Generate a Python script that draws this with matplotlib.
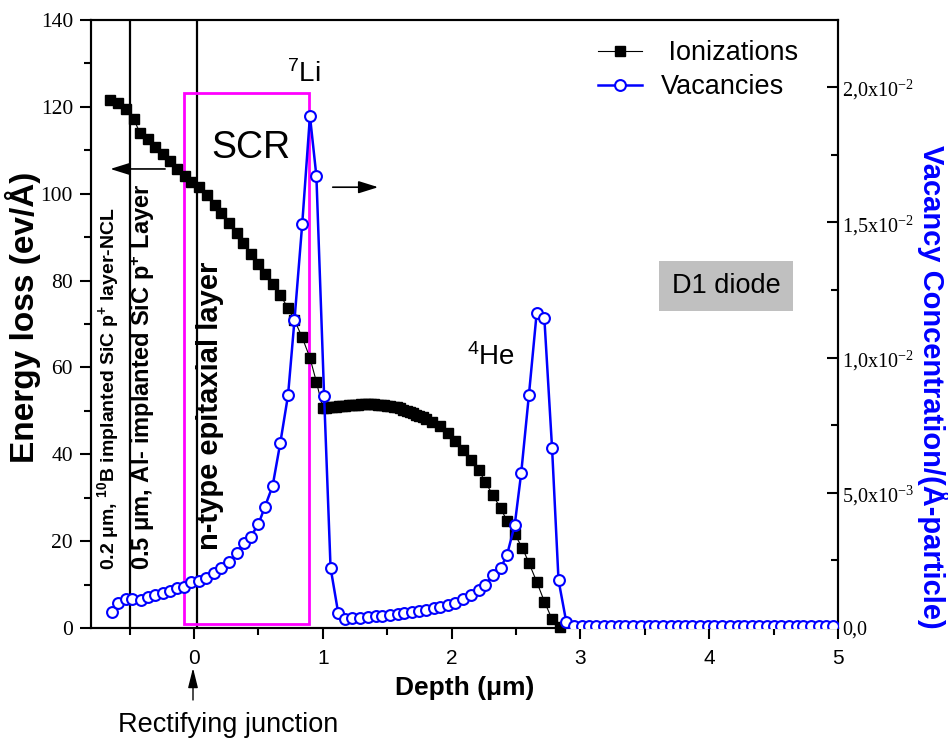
import matplotlib
matplotlib.use("Agg")
import matplotlib.pyplot as plt
from matplotlib.patches import Rectangle
from matplotlib.ticker import MultipleLocator, FixedLocator

plt.rcParams['font.family'] = ['Liberation Sans', 'DejaVu Sans']
plt.rcParams['mathtext.fontset'] = 'custom'
plt.rcParams['mathtext.rm'] = 'Liberation Serif'
plt.rcParams['mathtext.sf'] = 'Liberation Sans'
plt.rcParams['mathtext.bf'] = 'Liberation Sans:bold'
plt.rcParams['mathtext.it'] = 'Liberation Sans:italic'

# SRIM energy loss by ionization (eV/Å) versus depth (µm)
ion_depth = [-0.65, -0.59, -0.53, -0.47, -0.42, -0.36, -0.30, -0.24, -0.19, -0.13,
             -0.07, -0.02, 0.04, 0.10, 0.16, 0.21, 0.27, 0.33, 0.38, 0.44,
             0.50, 0.55, 0.61, 0.67, 0.73, 0.78, 0.84, 0.90, 0.95,
             1.000, 1.025, 1.050, 1.075, 1.100, 1.125, 1.150, 1.175, 1.200, 1.225,
             1.250, 1.275, 1.300, 1.325, 1.350, 1.375, 1.400, 1.425, 1.450, 1.475,
             1.500, 1.525, 1.550, 1.575, 1.600, 1.625, 1.650, 1.675, 1.700, 1.725,
             1.750, 1.775, 1.800, 1.850, 1.910, 1.970, 2.030, 2.090, 2.150, 2.210,
             2.26, 2.32, 2.38, 2.43, 2.49, 2.55, 2.60, 2.66, 2.72, 2.78, 2.84]
ion_loss = [121.6, 120.8, 119.5, 117.3, 114.0, 112.5, 110.8, 109.2, 107.6, 105.8,
            104.0, 102.8, 101.5, 99.6, 97.5, 95.5, 93.3, 91.0, 88.6, 86.2,
            83.8, 81.5, 79.3, 76.7, 73.6, 70.9, 66.9, 62.2, 56.7,
            50.6, 50.7, 50.8, 50.9, 51.0, 51.1, 51.1, 51.2, 51.3, 51.3,
            51.4, 51.4, 51.5, 51.5, 51.5, 51.5, 51.5, 51.4, 51.4, 51.3,
            51.2, 51.1, 51.0, 50.8, 50.6, 50.3, 50.0, 49.7, 49.4, 49.1,
            48.8, 48.5, 48.1, 47.4, 46.4, 45.0, 43.0, 41.0, 38.7, 36.4,
            33.7, 30.6, 27.6, 24.7, 21.6, 18.4, 15.0, 10.7, 6.1, 2.0, 0.3]

# vacancy concentration in units of 1e-3 per (Å-particle)
vac_depth = [-0.64, -0.59, -0.53, -0.48, -0.41, -0.36, -0.30, -0.24, -0.19, -0.13,
             -0.075, -0.02, 0.04, 0.09, 0.155, 0.21, 0.27, 0.33, 0.39, 0.44,
             0.50, 0.55, 0.61, 0.67, 0.73, 0.78, 0.84, 0.90, 0.95, 1.01,
             1.06, 1.12, 1.17, 1.23, 1.29, 1.35, 1.41, 1.46, 1.52, 1.58,
             1.63, 1.69, 1.75, 1.80, 1.86, 1.91, 1.97, 2.03, 2.09, 2.15,
             2.21, 2.26, 2.32, 2.38, 2.43, 2.49, 2.54, 2.60, 2.66, 2.72,
             2.78, 2.83, 2.89, 2.95, 3.01, 3.07, 3.12, 3.18, 3.24, 3.30,
             3.35, 3.41, 3.47, 3.53, 3.58, 3.64, 3.70, 3.76, 3.81, 3.87,
             3.93, 3.99, 4.04, 4.10, 4.16, 4.22, 4.27, 4.33, 4.39, 4.45,
             4.50, 4.56, 4.62, 4.68, 4.73, 4.79, 4.85, 4.91, 4.96]
vac_conc = [0.58, 0.91, 1.06, 1.08, 1.03, 1.16, 1.22, 1.31, 1.38, 1.47,
            1.53, 1.71, 1.75, 1.84, 2.04, 2.21, 2.45, 2.76, 3.15, 3.38,
            3.84, 4.48, 5.25, 6.85, 8.61, 11.39, 14.94, 18.93, 16.71, 8.58,
            2.23, 0.54, 0.32, 0.36, 0.38, 0.42, 0.44, 0.45, 0.48, 0.50,
            0.54, 0.58, 0.63, 0.67, 0.73, 0.76, 0.85, 0.94, 1.06, 1.22,
            1.40, 1.59, 1.96, 2.21, 2.70, 3.81, 5.72, 8.61, 11.63, 11.45,
            6.64, 1.77, 0.23, 0.09, 0.08, 0.08, 0.08, 0.08, 0.08, 0.08,
            0.08, 0.08, 0.08, 0.08, 0.08, 0.08, 0.08, 0.08, 0.08, 0.08,
            0.08, 0.08, 0.08, 0.08, 0.08, 0.08, 0.08, 0.08, 0.08, 0.08,
            0.08, 0.08, 0.08, 0.08, 0.08, 0.08, 0.08, 0.08, 0.08]

vac_ticks = [0, 5, 10, 15, 20]
vac_ticklabels = ['0,0', '5,0x10$^{-3}$', '1,0x10$^{-2}$', '1,5x10$^{-2}$', '2,0x10$^{-2}$']

fig = plt.figure(figsize=(9.48, 7.40), dpi=100)
ax = fig.add_axes([91 / 948, 112 / 740, 747 / 948, 608 / 740])
ax.set_xlim(-0.8, 5)
ax.set_ylim(0, 140)

# layer boundaries and space charge region
ax.axvline(-0.5, color='k', lw=1.6, zorder=1)
ax.axvline(0.02, color='k', lw=1.6, zorder=1)
ax.add_patch(Rectangle((-0.08, 0.9), 0.97, 122.4, fill=False,
                       edgecolor='#ff00ff', lw=2.0, zorder=2))

l1, = ax.plot(ion_depth, ion_loss, '-', color='k', lw=0.8, marker='s', ms=7.2,
              mfc='k', mec='k', label=' Ionizations', zorder=3, clip_on=False)

ax2 = ax.twinx()
ax2.set_ylim(0, 22.48)
l2, = ax2.plot(vac_depth, vac_conc, '-', color='#0000ff', lw=1.8, marker='o', ms=7.8,
               mfc='white', mec='#0000ff', mew=1.5, label='Vacancies', zorder=3)

# axes styling
for a in (ax, ax2):
    for s in a.spines.values():
        s.set_linewidth(1.5)
ax.xaxis.set_major_locator(MultipleLocator(1))
ax.xaxis.set_minor_locator(MultipleLocator(0.5))
ax.yaxis.set_major_locator(MultipleLocator(20))
ax.yaxis.set_minor_locator(MultipleLocator(10))
ax.tick_params(axis='x', which='major', direction='out', length=8, width=1.5,
               labelsize=15, pad=7)
ax.tick_params(axis='x', which='minor', direction='out', length=5, width=1.5)
ax.tick_params(axis='y', which='major', direction='out', length=8, width=1.5,
               labelsize=15.5, pad=5, labelfontfamily='Liberation Serif')
ax.tick_params(axis='y', which='minor', direction='out', length=5, width=1.5)

ax2.yaxis.set_major_locator(FixedLocator(vac_ticks))
ax2.set_yticklabels(vac_ticklabels)
ax2.yaxis.set_minor_locator(MultipleLocator(2.5))
ax2.tick_params(axis='y', which='major', direction='in', length=8, width=1.5,
                labelsize=14.5, pad=3, labelfontfamily='Liberation Serif')
ax2.tick_params(axis='y', which='minor', direction='in', length=5, width=1.5)

# axis titles
fig.text(23 / 948, 1 - 317 / 740, 'Energy loss (ev/Å)', rotation=90, ha='center',
         va='center', fontsize=24, fontweight='bold')
fig.text(933 / 948, 1 - 387 / 740, 'Vacancy Concentration/(Å-particle)', rotation=270,
         ha='center', va='center', fontsize=21, fontweight='bold', color='#0000ff')
ax.set_xlabel('Depth (μm)', fontsize=19, fontweight='bold', labelpad=6)

# annotations
ax.text(0.44, 110.5, 'SCR', fontsize=27, ha='center', va='center')
ax.text(0.72, 125.7, r'$^{\mathsf{7}}$Li', fontsize=20, ha='left', va='baseline')
ax.text(2.12, 60.6, r'$^{\mathsf{4}}$He', fontsize=20, ha='left', va='baseline')
ax.text(4.13, 78.8, 'D1 diode', fontsize=19.5, ha='center', va='center',
        bbox=dict(boxstyle='square,pad=0.45', facecolor='#c0c0c0', edgecolor='none'))

ax.text(-0.67, 13.4, r'0.2 μm, $^{\mathbf{10}}$B implanted SiC p$^{\mathbf{+}}$ layer-NCL',
        rotation=90, ha='center', va='bottom', fontsize=14, fontweight='bold')
ax.text(-0.40, 13.4, r'0.5 μm, Al- implanted SiC p$^{\mathbf{+}}$ Layer',
        rotation=90, ha='center', va='bottom', fontsize=17, fontweight='bold')
ax.text(0.125, 18.0, 'n-type epitaxial layer', rotation=90, ha='center', va='bottom',
        fontsize=21, fontweight='bold')

arrow = dict(arrowstyle='-|>,head_length=0.8,head_width=0.25', color='k', lw=1.2,
             mutation_scale=15, shrinkA=0, shrinkB=0)
ax.annotate('', xy=(-0.65, 105.7), xytext=(-0.225, 105.7), arrowprops=arrow)
ax.annotate('', xy=(1.43, 101.5), xytext=(1.077, 101.5), arrowprops=arrow)

ax.annotate('', xy=(193, 72), xytext=(193, 40), xycoords='figure pixels',
            textcoords='figure pixels',
            arrowprops=dict(arrowstyle='-|>,head_length=0.8,head_width=0.2', color='k',
                            lw=1.0, mutation_scale=15, shrinkA=0, shrinkB=0))
fig.text(228 / 948, 8 / 740, 'Rectifying junction', fontsize=19.5, ha='center',
         va='baseline')

ax2.legend(handles=[l1, l2], loc='upper left', bbox_to_anchor=(0.679, 0.967),
           frameon=False, fontsize=19.5, handlelength=1.6, handletextpad=0.7,
           labelspacing=0.3, borderaxespad=0, borderpad=0)

fig.savefig('out.png', dpi=100)
